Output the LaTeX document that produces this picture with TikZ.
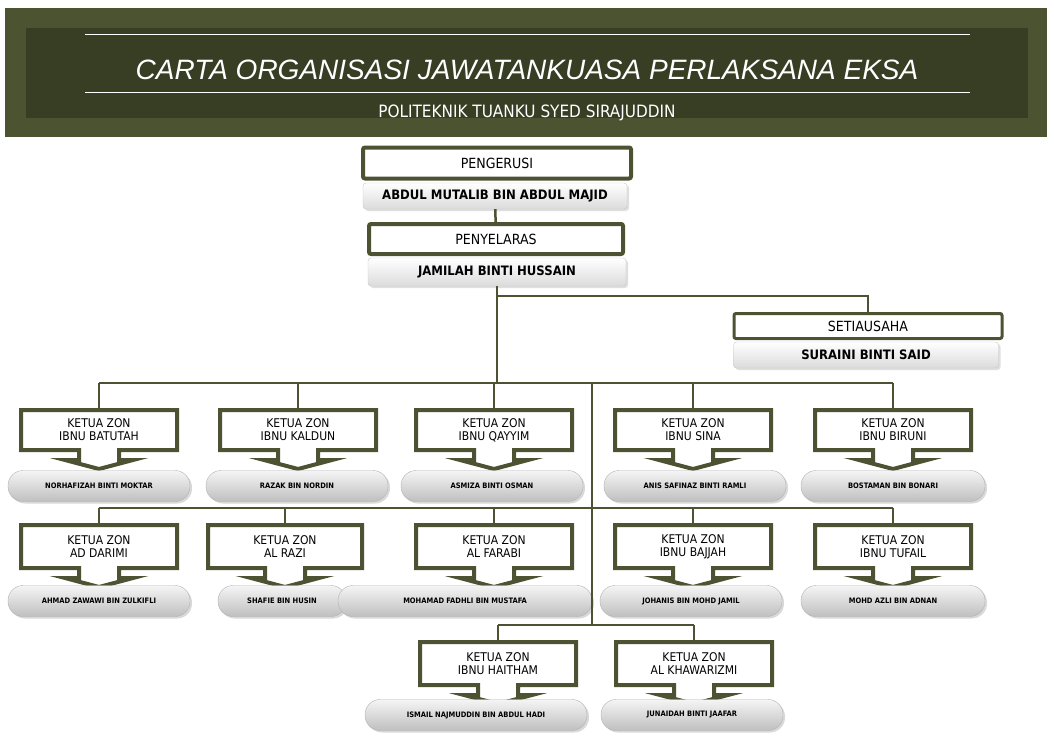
\documentclass[tikz,border=0pt]{standalone}
\usepackage{fontspec}
\setmainfont{DejaVu Sans Condensed}
\newfontfamily\tajukfont{Liberation Sans}
\usetikzlibrary{shadows}
\definecolor{zaitun}{HTML}{4D5233}
\definecolor{kepala}{HTML}{4B5330}
\definecolor{kepaladalam}{HTML}{383E24}
\tikzset{
  garis/.style={draw=zaitun, line width=2.5pt},
  ketua/.style={draw=zaitun, line width=4pt, fill=white, rounded corners=2pt, font=\fontsize{14}{16}\selectfont},
  nama/.style={draw=gray!45, top color=white, bottom color=gray!28, rounded corners=3pt, font=\fontsize{13}{15}\selectfont\bfseries,
    drop shadow={opacity=0.25, shadow xshift=2pt, shadow yshift=-2pt}},
  zonline/.style={draw=zaitun, line width=4pt, fill=white, line join=miter},
  zon/.style={align=center, inner sep=0pt, font=\fontsize{12}{13}\selectfont},
  pill/.style={draw=gray!60, top color=gray!8, bottom color=gray!50, rounded corners=15pt, minimum height=31pt,
    font=\fontsize{7.5}{9}\selectfont\bfseries, drop shadow={opacity=0.3, shadow xshift=2pt, shadow yshift=-2pt}}
}
% callout box: name, cx, top, width, height, text
\newcommand\zonbox[6]{%
  \draw[zonline] ({#2-#4/2},#3) -- ({#2+#4/2},#3) -- ({#2+#4/2},{#3+#5}) -- ({#2+20},{#3+#5})
    -- ({#2+20},{#3+#5+10}) -- ({#2+34},{#3+#5+10}) -- (#2,{#3+#5+19}) -- ({#2-34},{#3+#5+10})
    -- ({#2-20},{#3+#5+10}) -- ({#2-20},{#3+#5}) -- ({#2-#4/2},{#3+#5}) -- cycle;
  \node[zon, minimum width=#4, minimum height=#5] (#1) at (#2,{#3+#5/2}) {#6};}
\begin{document}
\begin{tikzpicture}[x=1pt, y=-1pt]
  \useasboundingbox (0,0) rectangle (1054,744);

  % header
  \fill[kepala] (5,8) rectangle (1047,137);
  \fill[kepaladalam] (26,28) rectangle (1028,118);
  \draw[white, line width=0.8pt] (85,34) -- (970,34);
  \draw[white, line width=0.8pt] (85,92) -- (970,92);
  \node[text=white, font=\tajukfont\itshape\fontsize{28}{30}\selectfont] (tajuk) at (527,70)
    {CARTA ORGANISASI JAWATANKUASA PERLAKSANA EKSA};
  \node[text=white, font=\fontsize{17}{19}\selectfont] (poli) at (527,113) {POLITEKNIK TUANKU SYED SIRAJUDDIN};

  % top of the chart
  \node[ketua, minimum width=268, minimum height=31] (pengerusi) at (497,163) {PENGERUSI};
  \node[nama, minimum width=264, minimum height=26] (npengerusi) at (495,196) {ABDUL MUTALIB BIN ABDUL MAJID};
  \node[ketua, minimum width=254, minimum height=30] (penyelaras) at (496,239) {PENYELARAS};
  \node[nama, minimum width=258, minimum height=28] (npenyelaras) at (497,272) {JAMILAH BINTI HUSSAIN};
  \node[ketua, line width=3pt, minimum width=268, minimum height=25] (setiausaha) at (868,326) {SETIAUSAHA};
  \node[nama, minimum width=265, minimum height=26] (nsetiausaha) at (866,355) {SURAINI BINTI SAID};

  \draw[garis] (npengerusi) -- (penyelaras);
  \coordinate (cabang) at (497,296);
  \coordinate (bus1) at (497,383);
  \draw[garis] (npenyelaras) -- (bus1);
  \draw[garis] (cabang) -| (setiausaha.north);

  % zone row 1
  \zonbox{zbatutah}{99}{410}{156}{40}{KETUA ZON\\IBNU BATUTAH}
  \zonbox{zkaldun}{298}{410}{156}{40}{KETUA ZON\\IBNU KALDUN}
  \zonbox{zqayyim}{494}{410}{156}{40}{KETUA ZON\\IBNU QAYYIM}
  \zonbox{zsina}{693}{410}{156}{40}{KETUA ZON\\IBNU SINA}
  \zonbox{zbiruni}{893}{410}{156}{40}{KETUA ZON\\IBNU BIRUNI}
  \node[pill, minimum width=182] (pbatutah) at (99,486) {NORHAFIZAH BINTI MOKTAR};
  \node[pill, minimum width=182] (pkaldun) at (297,486) {RAZAK BIN NORDIN};
  \node[pill, minimum width=182] (pqayyim) at (492,486) {ASMIZA BINTI OSMAN};
  \node[pill, minimum width=182] (psina) at (695,486) {ANIS SAFINAZ BINTI RAMLI};
  \node[pill, minimum width=184] (pbiruni) at (893,486) {BOSTAMAN BIN BONARI};

  % zone row 2
  \zonbox{zdarimi}{99}{525}{156}{43}{KETUA ZON\\AD DARIMI}
  \zonbox{zrazi}{285}{525}{154}{43}{KETUA ZON\\AL RAZI}
  \zonbox{zfarabi}{494}{525}{156}{43}{KETUA ZON\\AL FARABI}
  \zonbox{zbajjah}{693}{525}{156}{43}{KETUA ZON\\IBNU BAJJAH}
  \zonbox{ztufail}{893}{525}{156}{43}{KETUA ZON\\IBNU TUFAIL}
  \node[pill, minimum width=182] (pdarimi) at (99,601) {AHMAD ZAWAWI BIN ZULKIFLI};
  \node[pill, minimum width=128] (prazi) at (282,601) {SHAFIE BIN HUSIN};
  \node[pill, minimum width=254] (pfarabi) at (465,601) {MOHAMAD FADHLI BIN MUSTAFA};
  \node[pill, minimum width=182] (pbajjah) at (691,601) {JOHANIS BIN MOHD JAMIL};
  \node[pill, minimum width=184] (ptufail) at (893,601) {MOHD AZLI BIN ADNAN};

  % zone row 3
  \zonbox{zhaitham}{498}{642}{156}{43}{KETUA ZON\\IBNU HAITHAM}
  \zonbox{zkhawarizmi}{694}{642}{156}{43}{KETUA ZON\\AL KHAWARIZMI}
  \node[pill, minimum width=222] (phaitham) at (476,715) {ISMAIL NAJMUDDIN BIN ABDUL HADI};
  \node[pill, minimum width=182] (pkhawarizmi) at (692,715) {JUNAIDAH BINTI JAAFAR};

  % buses
  \coordinate (bus2) at (592,508);
  \coordinate (bus3) at (592,625);
  \draw[garis] (zbatutah.north |- bus1) -- (zbiruni.north |- bus1);
  \draw[garis] (zdarimi.north |- bus2) -- (ztufail.north |- bus2);
  \draw[garis] (zhaitham.north |- bus3) -- (zkhawarizmi.north |- bus3);
  \draw[garis] (bus1 -| bus2) -- (bus3);
  \foreach \z in {zbatutah, zkaldun, zqayyim, zsina, zbiruni}
    \draw[garis] (\z.north |- bus1) -- (\z.north);
  \foreach \z in {zdarimi, zrazi, zfarabi, zbajjah, ztufail}
    \draw[garis] (\z.north |- bus2) -- (\z.north);
  \foreach \z in {zhaitham, zkhawarizmi}
    \draw[garis] (\z.north |- bus3) -- (\z.north);
\end{tikzpicture}
\end{document}
